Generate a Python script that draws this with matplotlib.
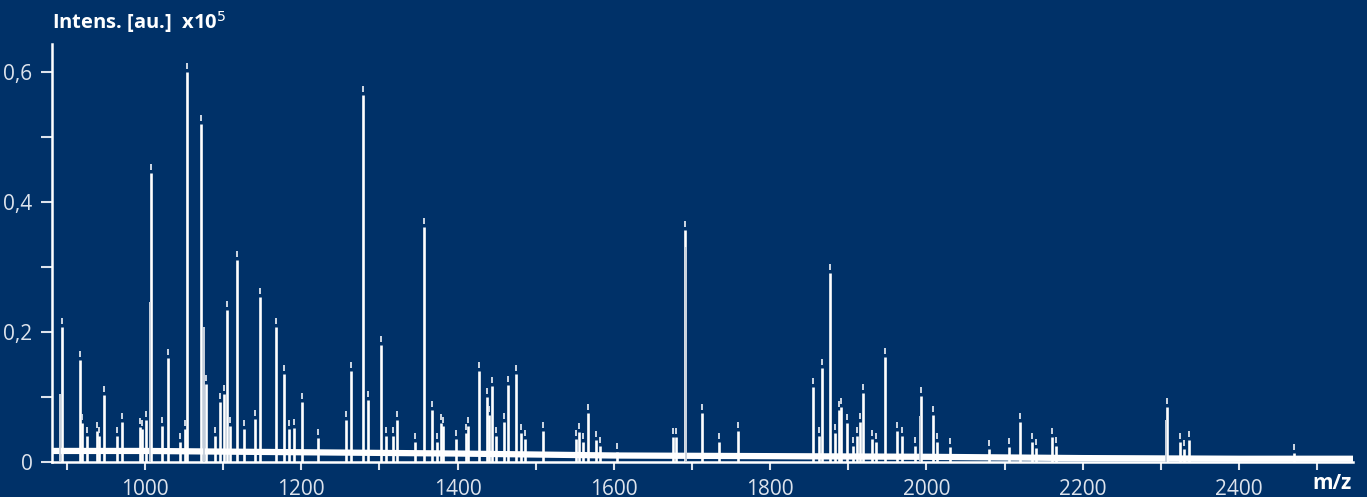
import matplotlib
matplotlib.use("Agg")
import matplotlib.pyplot as plt
import matplotlib.transforms as mtransforms
from matplotlib.ticker import FixedLocator, FuncFormatter

plt.rcParams['font.family'] = ['Open Sans', 'DejaVu Sans']

# labelled peaks: m/z and intensity (x10^5)
peak_mz = [893.2, 916.2, 919.0, 925.4, 938.2, 941.1, 947.9, 963.8, 971.0, 993.6,
           996.5, 1000.9, 1007.7, 1021.8, 1029.4, 1044.8, 1051.2, 1054.1, 1072.3, 1078.0,
           1089.6, 1096.0, 1101.5, 1105.3, 1108.8, 1117.7, 1126.7, 1140.4, 1146.7, 1167.6,
           1177.8, 1183.9, 1190.2, 1200.5, 1221.3, 1257.2, 1263.2, 1279.6, 1284.9, 1301.6,
           1308.0, 1317.3, 1322.4, 1345.1, 1357.0, 1367.2, 1373.6, 1378.7, 1381.3, 1397.5,
           1410.3, 1413.3, 1427.3, 1437.6, 1440.5, 1444.0, 1449.1, 1459.3, 1464.4, 1474.7,
           1481.1, 1486.2, 1509.6, 1551.4, 1555.3, 1560.4, 1566.8, 1577.0, 1582.1, 1603.9,
           1675.5, 1679.0, 1690.9, 1713.0, 1734.4, 1758.3, 1855.0, 1862.3, 1866.6, 1876.4,
           1882.8, 1888.3, 1890.5, 1897.8, 1905.8, 1911.8, 1914.8, 1919.0, 1930.2, 1935.3,
           1946.8, 1963.0, 1968.9, 1985.2, 1993.7, 2008.6, 2013.3, 2029.9, 2079.8, 2105.8,
           2119.5, 2135.8, 2140.9, 2161.3, 2165.6, 2308.5, 2324.2, 2329.3, 2335.7, 2470.5]
peak_int = [0.208, 0.157, 0.060, 0.040, 0.048, 0.040, 0.103, 0.040, 0.062, 0.054,
            0.050, 0.064, 0.445, 0.055, 0.160, 0.030, 0.050, 0.600, 0.520, 0.120,
            0.040, 0.092, 0.105, 0.234, 0.055, 0.310, 0.050, 0.066, 0.254, 0.207,
            0.135, 0.050, 0.052, 0.092, 0.037, 0.065, 0.140, 0.565, 0.095, 0.180,
            0.040, 0.040, 0.065, 0.030, 0.362, 0.080, 0.030, 0.060, 0.055, 0.035,
            0.045, 0.055, 0.140, 0.100, 0.072, 0.117, 0.040, 0.062, 0.118, 0.135,
            0.045, 0.035, 0.048, 0.035, 0.046, 0.030, 0.075, 0.034, 0.025, 0.015,
            0.038, 0.038, 0.357, 0.075, 0.030, 0.048, 0.115, 0.040, 0.145, 0.290,
            0.045, 0.080, 0.085, 0.060, 0.025, 0.040, 0.062, 0.106, 0.035, 0.030,
            0.161, 0.048, 0.040, 0.025, 0.102, 0.072, 0.030, 0.023, 0.020, 0.023,
            0.062, 0.031, 0.022, 0.038, 0.025, 0.085, 0.030, 0.020, 0.034, 0.014]

# unlabelled shoulders / isotope peaks
shoulder_mz = [891.2, 1006.4, 1075.5, 1692.8, 1991.6, 2306.9]
shoulder_int = [0.105, 0.246, 0.207, 0.330, 0.070, 0.065]

# noise baseline level
base_mz = [881, 1000, 1200, 1400, 1600, 1800, 2000, 2200, 2400, 2546]
base_int = [0.017, 0.017, 0.015, 0.013, 0.010, 0.009, 0.008, 0.006, 0.005, 0.005]

bg = '#003168'
fg = 'white'
tick_col = '#dde3ec'

fig = plt.figure(figsize=(13.67, 4.97), dpi=100, facecolor=bg)
ax = fig.add_axes([52/1367, 35/497, 1301/1367, 418/497], facecolor=bg)

ax.plot(base_mz, base_int, color=fg, lw=4.5, solid_capstyle='butt', zorder=2)
ax.vlines(peak_mz, 0, peak_int, color=fg, lw=1.9, zorder=3)
ax.vlines(shoulder_mz, 0, shoulder_int, color='#c9d2de', lw=1.4, zorder=3)

# peak label markers just above each apex
mark_tr = mtransforms.offset_copy(ax.transData, fig=fig, y=6, units='dots')
ax.plot(peak_mz, peak_int, ls='none', marker='|', ms=4.5, mew=1.3,
        color='#dfe5ee', transform=mark_tr, zorder=4)

ax.set_xlim(881, 2546)
ax.set_ylim(0, 0.643)

for s in ['top', 'right']:
    ax.spines[s].set_visible(False)
for s in ['left', 'bottom']:
    ax.spines[s].set_color(fg)
    ax.spines[s].set_linewidth(1.8)

ax.xaxis.set_major_locator(FixedLocator([1000, 1200, 1400, 1600, 1800, 2000, 2200, 2400]))
ax.xaxis.set_minor_locator(FixedLocator([900, 1100, 1300, 1500, 1700, 1900, 2100, 2300, 2500]))
ax.yaxis.set_major_locator(FixedLocator([0, 0.2, 0.4, 0.6]))
ax.yaxis.set_minor_locator(FixedLocator([0.1, 0.3, 0.5]))
ax.yaxis.set_major_formatter(FuncFormatter(lambda v, p: '0' if v == 0 else f'{v:.1f}'.replace('.', ',')))

ax.tick_params(which='both', colors=tick_col, width=1.5, length=6, labelsize=15)
ax.tick_params(axis='x', which='both', pad=6)
ax.tick_params(axis='y', which='both', length=8, pad=6)
ax.xaxis.get_minor_ticks()[0].tick1line.set_color('black')

fig.text(52/1367, 1 - 29/497, 'Intens. [au.]  x10$^{5}$', color=fg, fontsize=14.5,
         fontweight='bold', ha='left', va='baseline')
fig.text(1352/1367, 1 - 489/497, 'm/z', color=fg, fontsize=15,
         fontweight='bold', ha='right', va='baseline')

fig.savefig('out.png', dpi=100, facecolor=bg)
